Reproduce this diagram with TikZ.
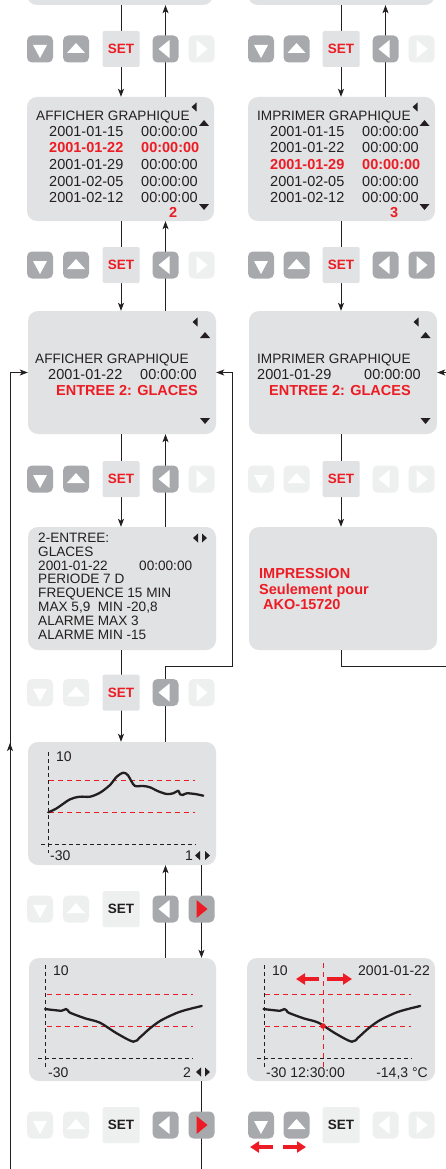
\documentclass[tikz,border=0pt]{standalone}
\usepackage{fontspec}
\setmainfont{Liberation Sans}
\usetikzlibrary{arrows.meta}
\definecolor{scr}{HTML}{E1E2E3}
\definecolor{dk}{HTML}{A7A9AC}
\definecolor{lt}{HTML}{EEEFEF}
\definecolor{rd}{HTML}{ED1C24}
\definecolor{ln}{HTML}{231F20}
\tikzset{
 screen/.style={fill=scr, rounded corners=10pt, inner sep=0pt, draw=none},
 btn/.style={rounded corners=5pt, minimum width=26pt, minimum height=27pt, inner sep=0pt},
 setbtn/.style={rounded corners=1.5pt, minimum width=37pt, minimum height=36pt, inner sep=0pt, font=\fontsize{13.5}{13.5}\selectfont\bfseries},
 conn/.style={draw=ln, line width=0.8pt, -{Stealth[length=8pt,width=6pt,inset=2pt]}},
 wire/.style={draw=ln, line width=0.8pt},
 txt/.style={inner sep=0pt, anchor=base west, font=\fontsize{14.5}{16}\selectfont, text=ln},
 ttl/.style={txt, font=\fontsize{13.6}{16}\selectfont},
 rtxt/.style={txt, text=rd, font=\fontsize{14.5}{16}\selectfont\bfseries},
 stxt/.style={txt, font=\fontsize{13.6}{14}\selectfont},
 gtxt/.style={txt, font=\fontsize{14}{16}\selectfont},
 axisline/.style={draw=ln, line width=0.8pt, dash pattern=on 4pt off 3pt},
 limitline/.style={draw=rd, line width=0.8pt, dash pattern=on 5pt off 4pt},
 curveline/.style={draw=ln, line width=2.3pt, line join=round, line cap=round},
 redarr/.style={draw=rd, line width=3.2pt, -{Triangle[length=9pt,width=11pt]}},
}
% buttons
\newcommand\btD[4]{\node[btn,fill=#4] (#1) at (#2,#3) {};\fill[white] (#2-7,#3-4) -- (#2+7,#3-4) -- (#2,#3+9) -- cycle;}
\newcommand\btU[4]{\node[btn,fill=#4] (#1) at (#2,#3) {};\fill[white] (#2-9,#3+4) -- (#2+9,#3+4) -- (#2,#3-6) -- cycle;}
\newcommand\btL[5]{\node[btn,fill=#4] (#1) at (#2,#3) {};\fill[#5] (#2+4,#3-9) -- (#2+4,#3+9) -- (#2-7,#3) -- cycle;}
\newcommand\btR[5]{\node[btn,fill=#4] (#1) at (#2,#3) {};\fill[#5] (#2-5,#3-9) -- (#2-5,#3+9) -- (#2+6,#3) -- cycle;}
\newcommand\btS[5]{\node[setbtn,fill=#4,text=#5] (#1) at (#2,#3) {SET};}
% small markers
\newcommand\mkL[2]{\fill[ln] (#1-2.5,#2) -- (#1+2.5,#2-4.5) -- (#1+2.5,#2+4.5) -- cycle;}
\newcommand\mkR[2]{\fill[ln] (#1+2.5,#2) -- (#1-2.5,#2-4.5) -- (#1-2.5,#2+4.5) -- cycle;}
\newcommand\mkU[2]{\fill[ln] (#1,#2-3) -- (#1-5,#2+3) -- (#1+5,#2+3) -- cycle;}
\newcommand\mkD[2]{\fill[ln] (#1,#2+3) -- (#1-5,#2-3) -- (#1+5,#2-3) -- cycle;}
\begin{document}
\begin{tikzpicture}[x=1pt,y=-1pt]
\useasboundingbox (0,0) rectangle (446,1169);
\clip (0,0) rectangle (446,1169);
\fill[white] (0,0) rectangle (446,1169);
% screens
\node[screen, minimum width=186pt, minimum height=35pt] (top1) at (120,-12.5) {};
\node[screen, minimum width=187pt, minimum height=35pt] (top2) at (341.5,-12.5) {};
\node[screen, minimum width=187pt, minimum height=124pt] (b2L) at (120.5,159) {};
\node[screen, minimum width=187pt, minimum height=124pt] (b2R) at (341.5,159) {};
\node[screen, minimum width=188pt, minimum height=123pt] (b3L) at (122,372.5) {};
\node[screen, minimum width=188pt, minimum height=123pt] (b3R) at (343,372.5) {};
\node[screen, minimum width=188pt, minimum height=123pt] (b4L) at (122,588.5) {};
\node[screen, minimum width=188pt, minimum height=123pt] (imp) at (343,588.5) {};
\node[screen, minimum width=188pt, minimum height=123pt] (g1) at (122,803.5) {};
\node[screen, minimum width=187pt, minimum height=123pt] (g2) at (122.5,1019.5) {};
\node[screen, minimum width=188pt, minimum height=123pt] (g3) at (341,1019.5) {};
% column guides
\coordinate (cDL) at (121,0);
\coordinate (cUL) at (165.5,0);
\coordinate (cRL) at (201.5,0);
\coordinate (cDR) at (341,0);
\coordinate (cUR) at (385.5,0);
\coordinate (k1) at (232,666);
\coordinate (k3) at (455,666);
\coordinate (offL) at (10,1180);
\coordinate (midL) at (10,743);
\coordinate (offB) at (201.5,1180);
% connectors
\draw[conn] (top1.south -| cDL) -- (b2L.north -| cDL);
\draw[conn] (b2L.north -| cUL) -- (top1.south -| cUL);
\draw[conn] (top2.south -| cDR) -- (b2R.north -| cDR);
\draw[conn] (b2R.north -| cUR) -- (top2.south -| cUR);
\draw[conn] (b2L.south -| cDL) -- (b3L.north -| cDL);
\draw[conn] (b3L.north -| cUL) -- (b2L.south -| cUL);
\draw[conn] (b2R.south -| cDR) -- (b3R.north -| cDR);
\draw[conn] (b3L.south -| cDL) -- (b4L.north -| cDL);
\draw[conn] (b4L.north -| cUL) -- (b3L.south -| cUL);
\draw[conn] (b3R.south -| cDR) -- (imp.north -| cDR);
\draw[conn] (b4L.south -| cDL) -- (g1.north -| cDL);
\draw[conn] (g1.north -| cUL) |- (k1) |- (b3L.east);
\draw[conn] (imp.south -| cDR) |- (k3) |- (b3R.east);
\draw[conn] (g1.south -| cRL) -- (g2.north -| cRL);
\draw[conn] (g2.north -| cUL) -- (g1.south -| cUL);
\draw[wire] (g2.south -| cRL) -- (offB);
\draw[conn] (offL) |- (b3L.west);
\draw[conn] (offL) -- (midL);
% button rows
\btD{r1a}{40}{49}{dk}\btU{r1b}{76}{49}{dk}\btS{r1c}{121}{49}{scr}{rd}\btL{r1d}{165.5}{49}{dk}{white}\btR{r1e}{201.5}{49}{lt}{white}
\btD{r1f}{261}{49}{dk}\btU{r1g}{296.5}{49}{dk}\btS{r1h}{341}{49}{scr}{rd}\btL{r1i}{385.5}{49}{dk}{white}\btR{r1j}{421.5}{49}{lt}{white}
\btD{r2a}{40}{265}{dk}\btU{r2b}{76}{265}{dk}\btS{r2c}{121}{265}{scr}{rd}\btL{r2d}{165.5}{265}{dk}{white}\btR{r2e}{201.5}{265}{lt}{white}
\btD{r2f}{261}{265}{dk}\btU{r2g}{296.5}{265}{dk}\btS{r2h}{341}{265}{scr}{rd}\btL{r2i}{385.5}{265}{dk}{white}\btR{r2j}{421.5}{265}{dk}{white}
\btD{r3a}{40}{479}{dk}\btU{r3b}{76}{479}{dk}\btS{r3c}{121}{479}{scr}{rd}\btL{r3d}{165.5}{479}{dk}{white}\btR{r3e}{201.5}{479}{lt}{white}
\btD{r3f}{261}{479}{lt}\btU{r3g}{296.5}{479}{lt}\btS{r3h}{341}{479}{scr}{rd}\btL{r3i}{385.5}{479}{lt}{white}\btR{r3j}{421.5}{479}{lt}{white}
\btD{r4a}{40}{692.5}{lt}\btU{r4b}{76}{692.5}{lt}\btS{r4c}{121}{692.5}{scr}{rd}\btL{r4d}{165.5}{692.5}{dk}{white}\btR{r4e}{201.5}{692.5}{lt}{white}
\btD{r5a}{40}{909}{lt}\btU{r5b}{76}{909}{lt}\btS{r5c}{121}{909}{lt}{ln}\btL{r5d}{165.5}{909}{dk}{white}\btR{r5e}{201.5}{909}{dk}{rd}
\btD{r6a}{40}{1125}{lt}\btU{r6b}{76}{1125}{lt}\btS{r6c}{121}{1125}{lt}{ln}\btL{r6d}{165.5}{1125}{dk}{white}\btR{r6e}{201.5}{1125}{dk}{rd}
\btD{r6f}{261}{1125}{dk}\btU{r6g}{296.5}{1125}{dk}\btS{r6h}{341}{1125}{lt}{ln}\btL{r6i}{385.5}{1125}{lt}{white}\btR{r6j}{421.5}{1125}{lt}{white}
% box 2 left
\mkL{194}{107}\mkU{204}{123}\mkD{204}{207}
\node[ttl] (a0) at (36,121) {AFFICHER GRAPHIQUE};
\node[txt] (a1) at (49,137) {2001-01-15}; \node[txt] (a1t) at (141,137) {00:00:00};
\node[rtxt] (a2) at (49,153) {2001-01-22}; \node[rtxt] (a2t) at (141,153) {00:00:00};
\node[txt] (a3) at (49,169.5) {2001-01-29}; \node[txt] (a3t) at (141,169.5) {00:00:00};
\node[txt] (a4) at (49,186) {2001-02-05}; \node[txt] (a4t) at (141,186) {00:00:00};
\node[txt] (a5) at (49,202) {2001-02-12}; \node[txt] (a5t) at (141,202) {00:00:00};
\node[rtxt] (a6) at (169,217) {2};
% box 2 right
\mkL{415}{107}\mkU{424.5}{123}\mkD{424.5}{207}
\node[ttl] (b0) at (257,121) {IMPRIMER GRAPHIQUE};
\node[txt] (b1) at (270,137) {2001-01-15}; \node[txt] (b1t) at (362,137) {00:00:00};
\node[txt] (b2) at (270,153) {2001-01-22}; \node[txt] (b2t) at (362,153) {00:00:00};
\node[rtxt] (b3) at (270,169.5) {2001-01-29}; \node[rtxt] (b3t) at (362,169.5) {00:00:00};
\node[txt] (b4) at (270,186) {2001-02-05}; \node[txt] (b4t) at (362,186) {00:00:00};
\node[txt] (b5) at (270,202) {2001-02-12}; \node[txt] (b5t) at (362,202) {00:00:00};
\node[rtxt] (b6) at (390,217) {3};
% box 3 left
\mkL{195}{322}\mkU{205}{335}\mkD{205}{421}
\node[ttl] (c0) at (35,363) {AFFICHER GRAPHIQUE};
\node[txt] (c1) at (48,379) {2001-01-22}; \node[txt] (c1t) at (140,379) {00:00:00};
\node[rtxt] (c2) at (56,395) {ENTREE 2: GLACES};
% box 3 right
\mkL{416}{322}\mkU{425.5}{335}\mkD{425.5}{421}
\node[ttl] (d0) at (257,363) {IMPRIMER GRAPHIQUE};
\node[txt] (d1) at (257,379) {2001-01-29}; \node[txt] (d1t) at (364,379) {00:00:00};
\node[rtxt] (d2) at (269,395) {ENTREE 2: GLACES};
% box 4
\mkL{195.5}{538}\mkR{204.5}{538}
\node[stxt] (e1) at (38,542) {2-ENTREE:};
\node[stxt] (e2) at (38,556) {GLACES};
\node[stxt] (e3) at (38,570) {2001-01-22}; \node[stxt] (e3t) at (139,570) {00:00:00};
\node[stxt] (e4) at (38,583.5) {PERIODE 7 D};
\node[stxt] (e5) at (38,597.5) {FREQUENCE 15 MIN};
\node[stxt] (e6) at (38,611.5) {MAX 5,9\ \ MIN -20,8};
\node[stxt] (e7) at (38,625.5) {ALARME MAX 3};
\node[stxt] (e8) at (38,639) {ALARME MIN -15};
% impression
\node[rtxt] (f1) at (259,578) {IMPRESSION};
\node[rtxt] (f2) at (259,594) {Seulement pour};
\node[rtxt] (f3) at (263,609) {AKO-15720};
% graph 1
\draw[limitline] (49,780) -- (195,780);
\draw[limitline] (49,812) -- (195,812);
\draw[axisline] (48,752) -- (48,853);
\draw[axisline] (41,844) -- (196,844);
\draw[curveline] plot[smooth, tension=0.5] coordinates {(48.3,812.3) (56.7,808.3) (70,799.3) (80,796.7) (90,796.7) (100,792.7) (110,785) (116.7,776.7) (123.3,772.7) (127.7,775) (131.7,781.7) (135,786) (143.3,786) (150,787.3) (158.3,791.3) (166.7,794) (173.3,793.3) (178.3,790.7) (180,794.3) (182.7,795) (186.7,793.3) (195,794) (203.3,795.7)};
\node[gtxt] (g1a) at (56,761) {10};
\node[gtxt] (g1b) at (50,860) {-30};
\node[gtxt] (g1c) at (185,860) {1};
\mkL{197.5}{855.5}\mkR{207.5}{855.5}
% graph 2
\draw[limitline] (47,994) -- (193,994);
\draw[limitline] (47,1026) -- (193,1026);
\draw[axisline] (45,965) -- (45,1067);
\draw[axisline] (38,1058) -- (193,1058);
\draw[curveline] plot[smooth, tension=0.5] coordinates {(45,1009) (53.3,1010) (61.7,1010.7) (66,1009) (68.3,1010.7) (70,1012.7) (85,1018.3) (100,1022.7) (116.7,1033.3) (133.3,1041.7) (140,1037.3) (150,1028.3) (161.7,1020) (180,1011.7) (201.7,1006)};
\node[gtxt] (g2a) at (53,975) {10};
\node[gtxt] (g2b) at (48,1077) {-30};
\node[gtxt] (g2c) at (183,1077) {2};
\mkL{198.5}{1072}\mkR{207.5}{1072}
% graph 3
\draw[limitline] (265,994) -- (411,994);
\draw[limitline] (265,1026) -- (411,1026);
\draw[limitline] (323,963) -- (323,1068);
\draw[axisline] (264,965) -- (264,1067);
\draw[axisline] (257,1058) -- (412,1058);
\begin{scope}[xshift=218.5pt]
\draw[curveline] plot[smooth, tension=0.5] coordinates {(45,1009) (53.3,1010) (61.7,1010.7) (66,1009) (68.3,1010.7) (70,1012.7) (85,1018.3) (100,1022.7) (116.7,1033.3) (133.3,1041.7) (140,1037.3) (150,1028.3) (161.7,1020) (180,1011.7) (201.7,1006)};
\end{scope}
\fill[rd] (323,1026) circle[radius=2.8pt];
\draw[redarr] (319,979) -- (296,979);
\draw[redarr] (327,979) -- (352,979);
\node[gtxt] (g3a) at (272,975) {10};
\node[gtxt, anchor=base east] (g3b) at (430,975) {2001-01-22};
\node[gtxt] (g3c) at (266,1077) {-30 12:30:00};
\node[gtxt, anchor=base east] (g3d) at (428,1077) {-14,3 °C};
% bottom red arrows
\draw[redarr] (273,1147) -- (250,1147);
\draw[redarr] (283,1147) -- (306,1147);
\end{tikzpicture}
\end{document}
